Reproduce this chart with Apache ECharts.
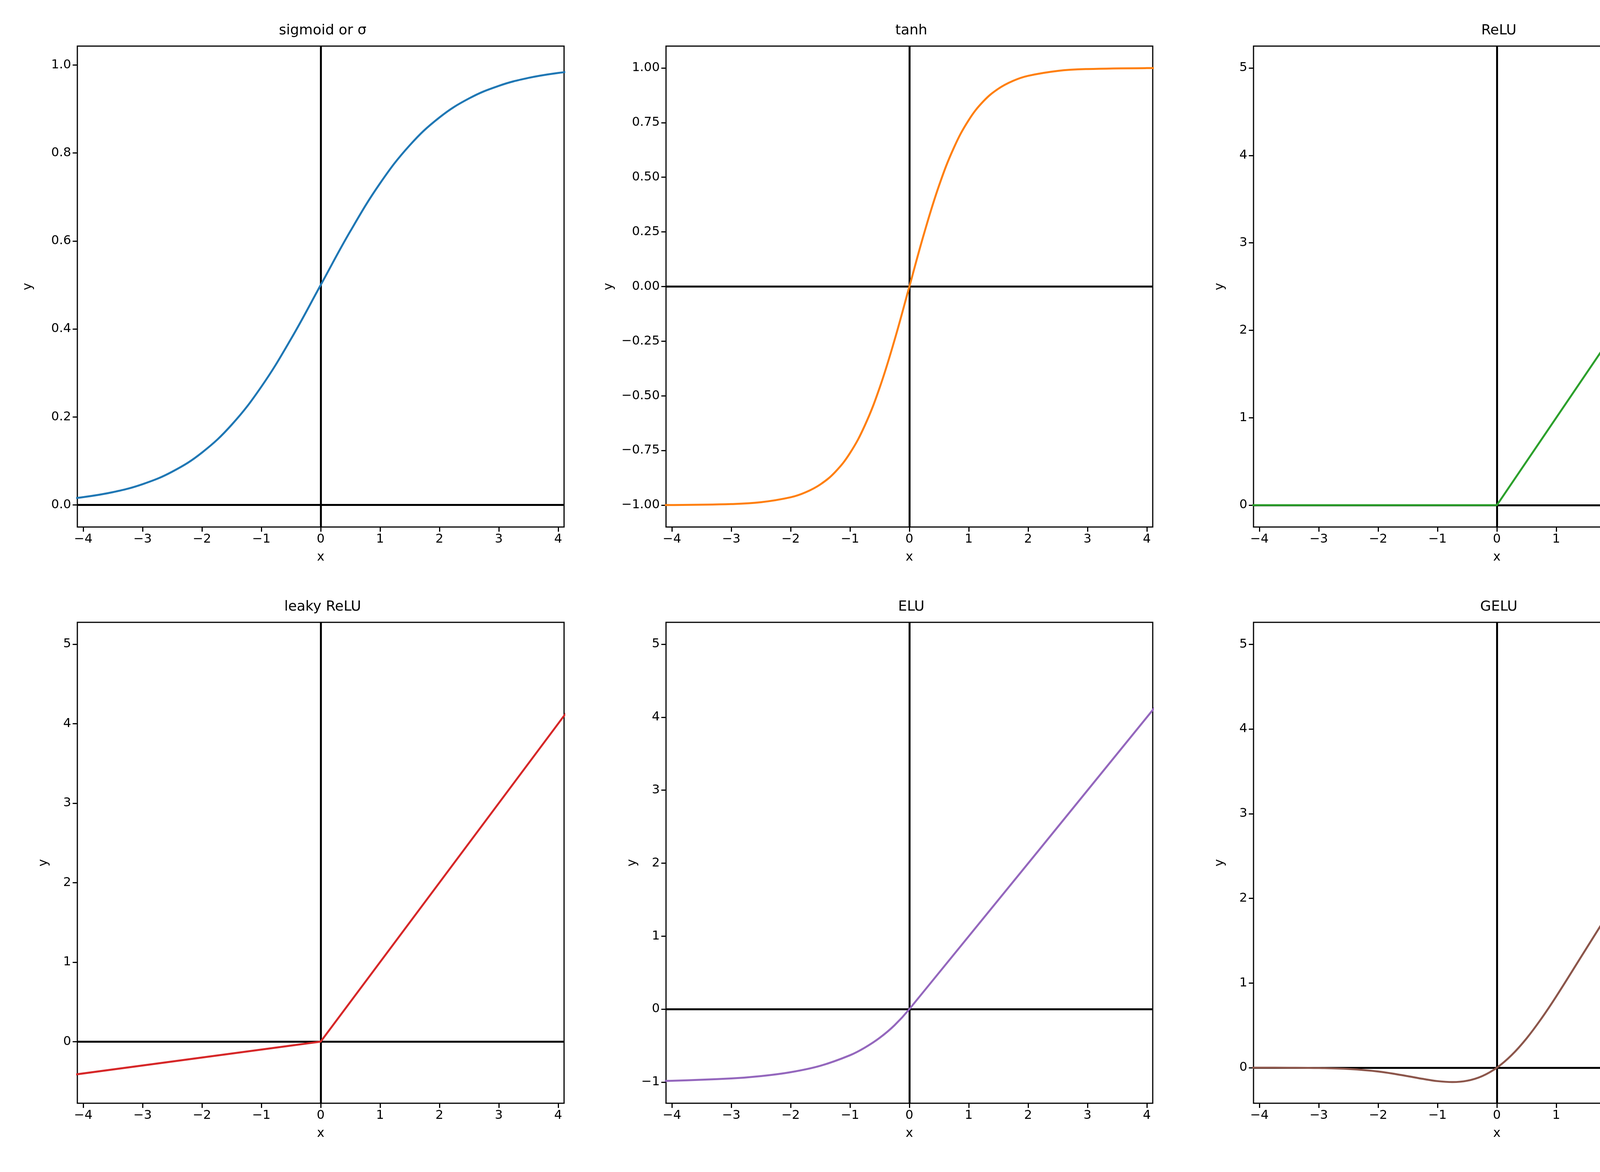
<!DOCTYPE html><html><head><meta charset="utf-8"><script src="https://cdn.jsdelivr.net/npm/echarts@6/dist/echarts.min.js"></script>
<style>html,body{margin:0;background:#fff}#c{width:4500px;height:3000px}</style></head><body><div id="c"></div><script>
const titles=['sigmoid or σ','tanh','ReLU','leaky ReLU','ELU','GELU'];
const colors=['#1f77b4','#ff7f0e','#2ca02c','#d62728','#9467bd','#8c564b'];
const xs=[-5,-4.5,-4,-3.5,-3,-2.5,-2,-1.5,-1,-0.5,0,0.5,1,1.5,2,2.5,3,3.5,4,4.5,5];
const sigmoidY=[0.0067,0.0110,0.0180,0.0293,0.0474,0.0759,0.1192,0.1824,0.2689,0.3775,0.5,0.6225,0.7311,0.8176,0.8808,0.9241,0.9526,0.9707,0.9820,0.9890,0.9933];
const tanhX=[-5,-4,-3,-2.5,-2,-1.75,-1.5,-1.25,-1,-0.75,-0.5,-0.25,0,0.25,0.5,0.75,1,1.25,1.5,1.75,2,2.5,3,4,5];
const tanhY=[-0.9999,-0.9993,-0.9951,-0.9866,-0.9640,-0.9414,-0.9051,-0.8483,-0.7616,-0.6351,-0.4621,-0.2449,0,0.2449,0.4621,0.6351,0.7616,0.8483,0.9051,0.9414,0.9640,0.9866,0.9951,0.9993,0.9999];
const eluX=[-5,-4,-3,-2.5,-2,-1.5,-1,-0.75,-0.5,-0.25,0,5];
const eluY=[-0.9933,-0.9817,-0.9502,-0.9179,-0.8647,-0.7769,-0.6321,-0.5276,-0.3935,-0.2212,0,5];
const geluX=[-5,-4,-3.5,-3,-2.5,-2,-1.5,-1.25,-1,-0.75,-0.5,-0.25,0,0.25,0.5,0.75,1,1.5,2,2.5,3,3.5,4,5];
const geluY=[0,-0.0001,-0.0008,-0.0040,-0.0155,-0.0455,-0.1002,-0.1320,-0.1587,-0.1700,-0.1543,-0.1003,0,0.1497,0.3457,0.5800,0.8413,1.3998,1.9545,2.4845,2.9960,3.4992,3.9999,5];
const reluX=[-5,0,5], reluY=[0,0,5];
const leakyX=[-5,0,5], leakyY=[-0.5,0,5];
const xTicks=[-4,-3,-2,-1,0,1,2,3,4];
const yTicks=[[0,0.2,0.4,0.6,0.8,1.0],[-1,-0.75,-0.5,-0.25,0,0.25,0.5,0.75,1],[0,1,2,3,4,5],[0,1,2,3,4,5],[-1,0,1,2,3,4,5],[0,1,2,3,4,5]];
const yDec=[1,2,0,0,0,0];
const yRange=[[-0.05,1.043],[-1.1,1.1],[-0.25,5.25],[-0.775,5.275],[-1.29,5.3],[-0.42,5.26]];
const zip=(a,b)=>a.map((v,i)=>[v,b[i]]);
const data=[zip(xs,sigmoidY),zip(tanhX,tanhY),zip(reluX,reluY),zip(leakyX,leakyY),zip(eluX,eluY),zip(geluX,geluY)];
const smooth=[0.4,0.4,false,false,0.3,0.4];
const lefts=[198,1705,3209], w=1246, tops=[118,1593], h=1231;
const fmt=(v,d)=>{let s=Number(v).toFixed(d);return s.replace('-','\u2212');};
const grid=[],xAxis=[],yAxis=[],series=[],title=[];
for(let i=0;i<6;i++){
 const l=lefts[i%3],t=tops[Math.floor(i/3)];
 grid.push({left:l,top:t,width:w,height:h,show:true,borderColor:'#000',borderWidth:3,backgroundColor:'transparent'});
 title.push({text:titles[i],left:l+w/2,top:t-62,textAlign:'center',textStyle:{fontSize:36,fontWeight:'normal',color:'#000',fontFamily:'DejaVu Sans'}});
 const lab={color:'#000',fontSize:32,fontFamily:'DejaVu Sans',margin:16};
 xAxis.push({type:'value',gridIndex:i,min:-4.1,max:4.1,name:'x',nameLocation:'middle',nameGap:62,nameTextStyle:{fontSize:32,color:'#000',fontFamily:'DejaVu Sans'},
  axisLine:{show:false,onZero:false},splitLine:{show:false},
  axisTick:{show:true,length:12,lineStyle:{color:'#000',width:3},customValues:xTicks},
  axisLabel:Object.assign({customValues:xTicks,formatter:v=>fmt(v,0)},lab)});
 yAxis.push({type:'value',gridIndex:i,min:yRange[i][0],max:yRange[i][1],name:'y',nameLocation:'middle',nameGap:i==1?130:(i==0?110:70),nameTextStyle:{fontSize:32,color:'#000',fontFamily:'DejaVu Sans'},
  axisLine:{show:false,onZero:false},splitLine:{show:false},
  axisTick:{show:true,length:12,lineStyle:{color:'#000',width:3},customValues:yTicks[i]},
  axisLabel:Object.assign({customValues:yTicks[i],formatter:v=>fmt(v,yDec[i])},lab)});
 series.push({type:'line',xAxisIndex:i,yAxisIndex:i,data:data[i],showSymbol:false,smooth:smooth[i],clip:true,
  lineStyle:{color:colors[i],width:5},z:3,
  markLine:{silent:true,symbol:'none',label:{show:false},lineStyle:{color:'#000',width:5,type:'solid'},data:[{xAxis:0},{yAxis:0}],z:2}});
}
const ch=echarts.init(document.getElementById('c'));
ch.setOption({animation:false,backgroundColor:'#fff',title,grid,xAxis,yAxis,series});
</script></body></html>
